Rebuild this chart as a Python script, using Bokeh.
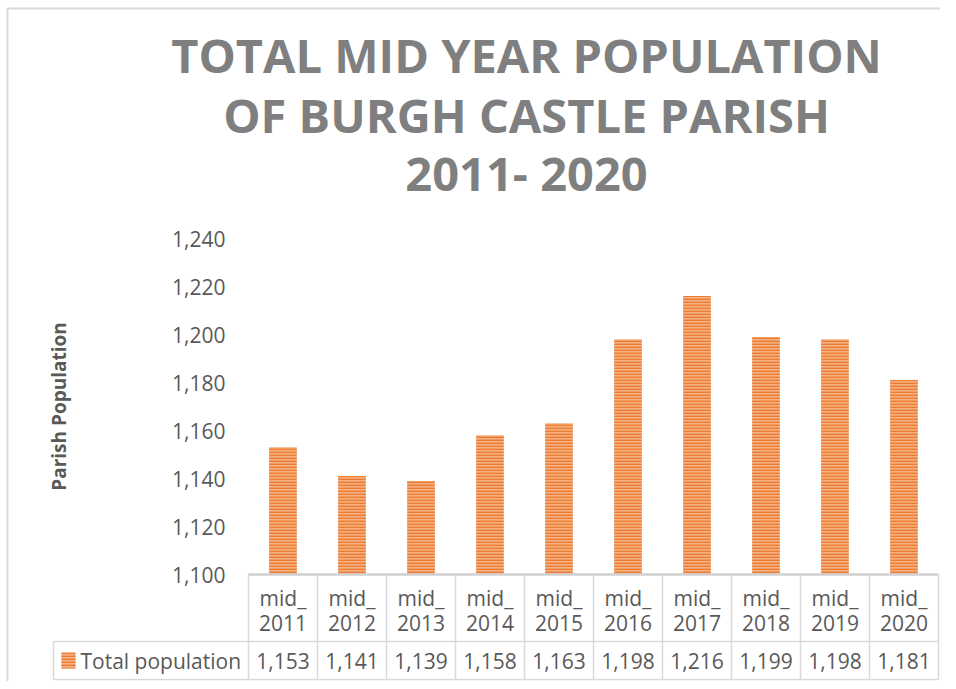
import numpy as np
from bokeh.plotting import figure
from bokeh.models import Range1d, LinearAxis, FixedTicker, NumeralTickFormatter, ColumnDataSource
from bokeh.core.properties import value
from bokeh.embed import file_html
from bokeh.resources import INLINE

# ---------------- data ----------------
categories = ["mid_2011", "mid_2012", "mid_2013", "mid_2014", "mid_2015",
              "mid_2016", "mid_2017", "mid_2018", "mid_2019", "mid_2020"]
population = [1153, 1141, 1139, 1158, 1163, 1198, 1216, 1199, 1198, 1181]
y_ticks = [1100, 1120, 1140, 1160, 1180, 1200, 1220, 1240]
series_name = "Total population"
title_lines = ["TOTAL MID YEAR POPULATION", "OF BURGH CASTLE PARISH", "2011- 2020"]
y_label = "Parish Population"

# ---------------- layout (pixels inside the figure) ----------------
W, H = 940, 681
X0 = 248          # left edge of first category column
COL = 69          # column width
Y_BASE = 574      # pixel row of lowest tick
Y_TOP = 238       # pixel row of highest tick
ROW1 = 641        # header row bottom
ROW2 = 679        # value row bottom
LABEL_LEFT = 53   # left edge of series label cell

n = len(categories)
ppu = (Y_BASE - Y_TOP) / (y_ticks[-1] - y_ticks[0])
y_start = y_ticks[0] - (H - Y_BASE) / ppu
y_end = y_ticks[0] + Y_BASE / ppu
x_start = -X0 / COL
x_end = (W - X0) / COL
xl = (LABEL_LEFT - X0) / COL

GRAY_TXT = "#595959"
TITLE_C = "#7F7F7F"
BORDER = "#D9D9D9"
ORANGE = "#ED7D31"
ORANGE_L = "#F4B083"
FONT = "Open Sans"

p = figure(width=W, height=H, x_range=Range1d(x_start, x_end), y_range=Range1d(y_start, y_end),
           output_backend="svg", toolbar_location=None, min_border=0, title=None,
           x_axis_type=None, y_axis_type=None)
p.extra_x_ranges = {"px": Range1d(0, W)}
p.extra_y_ranges = {"py": Range1d(H, 0)}
p.outline_line_color = None
p.background_fill_color = "white"

# y axis at the left edge of the category area
yaxis = LinearAxis(fixed_location=0, ticker=FixedTicker(ticks=y_ticks),
                   formatter=NumeralTickFormatter(format="0,0"))
yaxis.axis_line_color = None
yaxis.major_tick_line_color = None
yaxis.minor_tick_line_color = None
yaxis.major_tick_out = 0
yaxis.major_tick_in = 0
yaxis.major_label_standoff = 23
yaxis.major_label_text_font = FONT
yaxis.major_label_text_font_size = "21px"
yaxis.major_label_text_color = GRAY_TXT
p.add_layout(yaxis, "left")

# rotated axis title
p.text(x=[58], y=[(Y_BASE + Y_TOP) / 2], text=[y_label], x_range_name="px", y_range_name="py",
       angle=np.pi / 2, text_align="center", text_baseline="middle", text_font=value(FONT),
       text_font_size="19px", text_font_style="bold", text_color=GRAY_TXT)

# bars
src = ColumnDataSource(dict(x=np.arange(n) + 0.5, top=population, cat=categories,
                            head=[c[:4] for c in categories], yr=[c[4:] for c in categories],
                            lab=[f"{v:,}" for v in population]))
p.vbar(x="x", top="top", bottom=y_ticks[0], width=0.4, source=src,
       fill_color=ORANGE_L, line_color=None, hatch_pattern="horizontal_line",
       hatch_color=ORANGE, hatch_scale=3, hatch_weight=1.8)

# data table
p.segment(x0=0, x1=n, y0=Y_BASE, y1=Y_BASE, y_range_name="py", line_color="#D0D0D0", line_width=2.5)
p.segment(x0=list(range(n + 1)), x1=list(range(n + 1)), y0=Y_BASE, y1=ROW2, y_range_name="py",
          line_color=BORDER, line_width=1.5)
p.segment(x0=[xl, xl], x1=[n, n], y0=[ROW1, ROW2], y1=[ROW1, ROW2], y_range_name="py",
          line_color=BORDER, line_width=1.5)
p.segment(x0=xl, x1=xl, y0=ROW1, y1=ROW2, y_range_name="py", line_color=BORDER, line_width=1.5)

p.text(x="x", y=597, text="head", source=src, y_range_name="py", text_align="center",
       text_baseline="middle", text_font=value(FONT), text_font_size="21px", text_color=GRAY_TXT)
p.text(x="x", y=622, text="yr", source=src, y_range_name="py", text_align="center",
       text_baseline="middle", text_font=value(FONT), text_font_size="21px", text_color=GRAY_TXT)
p.text(x="x", y=660, text="lab", source=src, y_range_name="py", text_align="center",
       text_baseline="middle", text_font=value(FONT), text_font_size="21px", text_color=GRAY_TXT)

# legend key + series name
p.quad(left=61, right=75, top=652, bottom=668, x_range_name="px", y_range_name="py",
       fill_color=ORANGE_L, line_color=None, hatch_pattern="horizontal_line",
       hatch_color=ORANGE, hatch_scale=3, hatch_weight=1.8)
p.text(x=[80], y=[660], text=[series_name], x_range_name="px", y_range_name="py",
       text_align="left", text_baseline="middle", text_font=value(FONT),
       text_font_size="21px", text_color=GRAY_TXT)

# title
p.text(x=[526] * 3, y=[54, 114, 172], text=title_lines, x_range_name="px", y_range_name="py",
       text_align="center", text_baseline="middle", text_font=value(FONT),
       text_font_size="47px", text_font_style="bold", text_color=TITLE_C)

# chart area border (left and top visible)
p.segment(x0=[7, 7], x1=[7, W], y0=[8, 8], y1=[H, 8], x_range_name="px", y_range_name="py",
          line_color=BORDER, line_width=2)

open("out.html", "w").write(file_html(p, INLINE))
